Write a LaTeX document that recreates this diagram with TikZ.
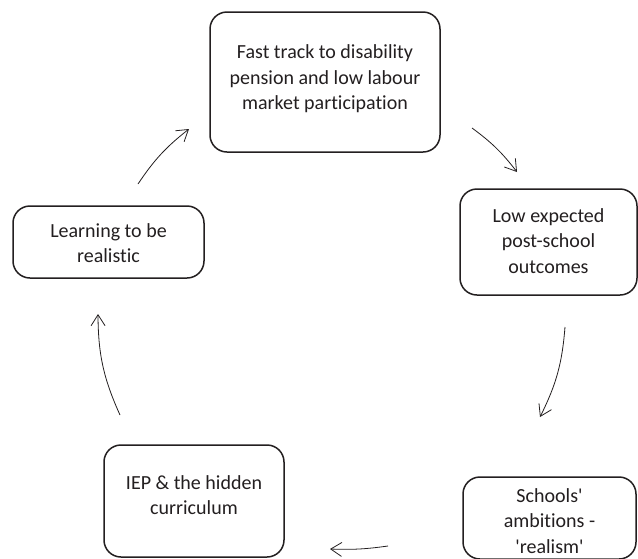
\documentclass[tikz,border=0pt]{standalone}
\usepackage{fontspec}
\setmainfont{Carlito}[Ligatures={NoCommon}]
\usetikzlibrary{arrows.meta}
\definecolor{ink}{HTML}{231F20}
\begin{document}
\begin{tikzpicture}[x=1pt,y=-1pt,
  stagebox/.style={draw=ink, line width=1.5pt, rounded corners=17pt, fill=white, inner sep=0pt},
  stagetext/.style={text=ink, align=center, font=\fontsize{20}{25.5}\selectfont, inner sep=0pt},
  cyclearrow/.style={draw=ink, line width=0.8pt, -{Straight Barb[length=11pt,width=14pt]}}
]
\useasboundingbox (0,0) rectangle (638,558);

% the five stages of the cycle
\node[stagebox, minimum width=230pt, minimum height=140pt] (fasttrack) at (325,82) {};
\node[stagetext] (fasttracktext) at (325,79) {Fast track to disability\\pension and low labour\\market participation};

\node[stagebox, minimum width=177pt, minimum height=106pt] (lowexp) at (548.5,242) {};
\node[stagetext] (lowexptext) at (548.5,241) {Low expected\\post-school\\outcomes};

\node[stagebox, minimum width=173pt, minimum height=82pt] (schools) at (549.5,518) {};
\node[stagetext] (schoolstext) at (549.5,521) {Schools\textquotesingle\\ambitions -\\\textquotesingle realism\textquotesingle};

\node[stagebox, minimum width=180pt, minimum height=112pt] (iep) at (194,501) {};
\node[stagetext] (ieptext) at (194,495) {IEP \& the hidden\\curriculum};

\node[stagebox, minimum width=191pt, minimum height=72pt] (learning) at (108.5,242) {};
\node[stagetext] (learningtext) at (108.5,243) {Learning to be\\realistic};

% arrow ends placed around the circle of the cycle
\coordinate (a1s) at (472,128); \coordinate (a1e) at (517,172);
\coordinate (a2s) at (565,327); \coordinate (a2e) at (540,417);
\coordinate (a3s) at (388,546); \coordinate (a3e) at (330,549);
\coordinate (a4s) at (120,415); \coordinate (a4e) at (98,314);
\coordinate (a5s) at (138,184); \coordinate (a5e) at (189,129);

\draw[cyclearrow] (a1s) to[bend left=8] (a1e);
\draw[cyclearrow] (a2s) to[bend left=11] (a2e);
\draw[cyclearrow] (a3s) to[bend left=5] (a3e);
\draw[cyclearrow] (a4s) to[bend left=12] (a4e);
\draw[cyclearrow] (a5s) to[bend left=9] (a5e);
\end{tikzpicture}
\end{document}
